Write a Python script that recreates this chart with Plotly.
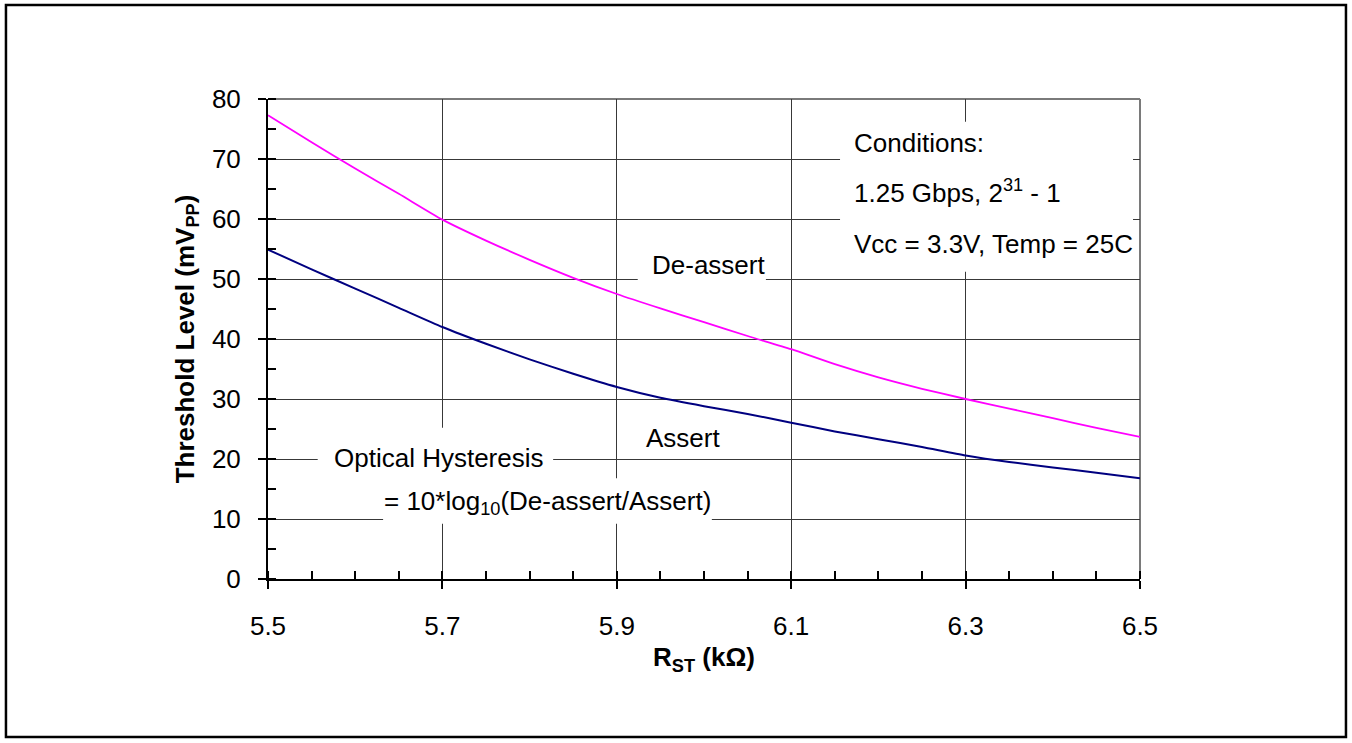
import plotly.graph_objects as go

# ---- data ----
r_st = [5.50, 5.55, 5.60, 5.65, 5.70, 5.75, 5.80, 5.85, 5.90, 5.95, 6.00,
        6.05, 6.10, 6.15, 6.20, 6.25, 6.30, 6.35, 6.40, 6.45, 6.50]
deassert = [77.3, 72.8, 68.4, 64.2, 59.9, 56.4, 53.2, 50.2, 47.5, 45.1, 42.8,
            40.5, 38.3, 35.8, 33.6, 31.7, 30.0, 28.4, 26.8, 25.2, 23.7]
assert_ = [54.9, 51.6, 48.4, 45.2, 42.0, 39.2, 36.6, 34.2, 32.0, 30.2, 28.8,
           27.5, 26.05, 24.6, 23.3, 22.0, 20.6, 19.5, 18.6, 17.7, 16.8]
x_ticks = [5.5, 5.7, 5.9, 6.1, 6.3, 6.5]
y_ticks = [0, 10, 20, 30, 40, 50, 60, 70, 80]

FONT = "Liberation Sans, Arial, sans-serif"
FS = 26
GRID = "#383838"

fig = go.Figure()
fig.add_trace(go.Scatter(x=r_st, y=deassert, mode="lines", name="De-assert",
                         line=dict(color="#FF00FF", width=1.8, shape="spline", smoothing=0.6),
                         showlegend=False))
fig.add_trace(go.Scatter(x=r_st, y=assert_, mode="lines", name="Assert",
                         line=dict(color="#000080", width=2, shape="spline", smoothing=0.6),
                         showlegend=False))

# white label boxes (cover gridlines, below traces)
boxes = [
    (6.156, 6.492, 51.2, 76.2),
    (5.924, 6.071, 49.2, 55.2),
    (5.557, 5.827, 14.8, 25.2),
    (5.632, 6.009, 9.2, 16.8),
]
for x0, x1, y0, y1 in boxes:
    fig.add_shape(type="rect", xref="x", yref="y", x0=x0, x1=x1, y0=y0, y1=y1,
                  fillcolor="white", line=dict(width=0), layer="between")

# top and right edges of the plot box (grid lines at the range ends)
fig.add_shape(type="line", xref="paper", yref="paper", x0=0, x1=1, y0=1, y1=1,
              line=dict(color="#7a7a7a", width=2), layer="between")
fig.add_shape(type="line", xref="paper", yref="paper", x0=1, x1=1, y0=0, y1=1,
              line=dict(color="#7a7a7a", width=2), layer="between")

# outer frame
fig.add_shape(type="rect", xref="paper", yref="paper",
              x0=-0.3005, x1=1.2362, y0=-0.3292, y1=1.1958,
              line=dict(color="black", width=2.5), fillcolor="rgba(0,0,0,0)",
              layer="above")

ann = dict(showarrow=False, font=dict(family=FONT, size=FS, color="black"))
fig.add_annotation(x=6.170, y=72.67, text="Conditions:", xanchor="left", yanchor="middle", **ann)
fig.add_annotation(x=6.170, y=64.6, text="1.25 Gbps, 2<sup>31</sup> - 1", xanchor="left", yanchor="middle", **ann)
fig.add_annotation(x=6.170, y=55.9, text="Vcc = 3.3V, Temp = 25C", xanchor="left", yanchor="middle", **ann)
fig.add_annotation(x=6.005, y=52.3, text="De-assert", xanchor="center", yanchor="middle", **ann)
fig.add_annotation(x=5.976, y=23.5, text="Assert", xanchor="center", yanchor="middle", **ann)
fig.add_annotation(x=5.696, y=20.2, text="Optical Hysteresis", xanchor="center", yanchor="middle", **ann)
fig.add_annotation(x=5.820, y=12.7, text="= 10*log<sub>10</sub>(De-assert/Assert)", xanchor="center", yanchor="middle", **ann)

fig.update_xaxes(
    range=[5.5, 6.5], tickvals=x_ticks, ticktext=[f"{v:.1f}" for v in x_ticks],
    showgrid=True, gridcolor=GRID, gridwidth=1, zeroline=False,
    showline=True, linecolor="black", linewidth=2,
    ticks="outside", ticklen=8, tickwidth=1.5, tickcolor="black",
    ticklabelstandoff=15,
    minor=dict(dtick=0.05, tick0=5.5, ticks="inside", ticklen=8, tickwidth=1.5,
               tickcolor="black", showgrid=False),
    tickfont=dict(family=FONT, size=FS, color="black"),
    title=dict(text="<b>R<sub>ST</sub> (kΩ)</b>", standoff=8,
               font=dict(family=FONT, size=FS, color="black")),
)
fig.update_yaxes(
    range=[0, 80], tickvals=y_ticks,
    showgrid=True, gridcolor=GRID, gridwidth=1, zeroline=False,
    showline=True, linecolor="black", linewidth=2,
    ticks="outside", ticklen=8, tickwidth=1.5, tickcolor="black",
    ticklabelstandoff=12,
    minor=dict(dtick=5, tick0=0, ticks="inside", ticklen=8, tickwidth=1.5,
               tickcolor="black", showgrid=False),
    tickfont=dict(family=FONT, size=FS, color="black"),
    title=dict(text="<b>Threshold Level (mV<sub>PP</sub>)</b>", standoff=10,
               font=dict(family=FONT, size=FS, color="black")),
)

fig.update_layout(
    width=1352, height=743,
    margin=dict(l=268, r=212, t=99, b=164),
    plot_bgcolor="white", paper_bgcolor="white",
    font=dict(family=FONT, size=FS, color="black"),
)

fig.write_html("out.html", config={"displayModeBar": False},
               post_script="document.body.style.margin='0';document.body.style.overflow='hidden';")
